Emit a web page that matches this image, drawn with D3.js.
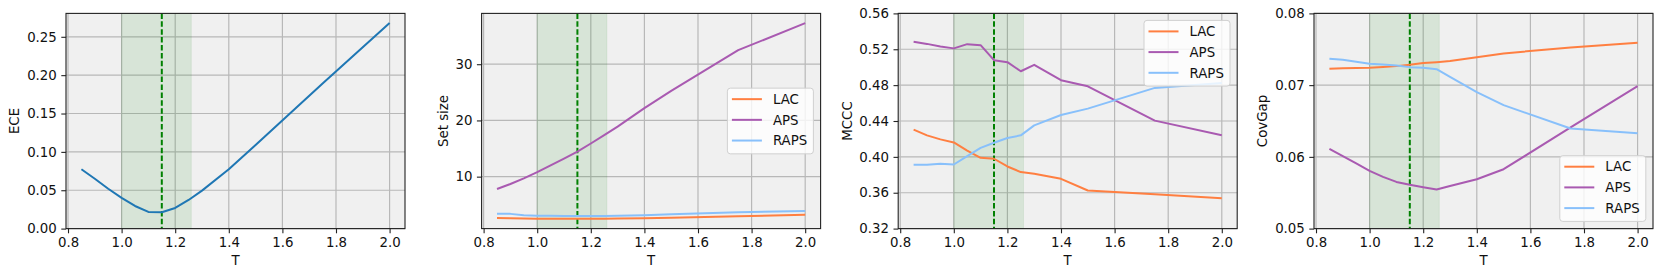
<!DOCTYPE html>
<html>
<head>
<meta charset="utf-8">
<script src="https://cdn.jsdelivr.net/npm/d3@7"></script>
<style>
  html, body { margin: 0; padding: 0; background: #fff; }
  svg { display: block; font-family: "DejaVu Sans", sans-serif; }
</style>
</head>
<body>
<svg id="chart" width="1661" height="277"></svg>
<script>
// ---------------- data ----------------
const T = [0.85, 0.9, 0.95, 1.0, 1.05, 1.1, 1.15, 1.2, 1.25, 1.3, 1.4, 1.5, 1.75, 2.0];
const xTicks = [0.8, 1.0, 1.2, 1.4, 1.6, 1.8, 2.0];
const methods = ["LAC", "APS", "RAPS"];

const eceValues = [0.0773, 0.065, 0.052, 0.0400, 0.0295, 0.0217, 0.0213, 0.0269, 0.0373, 0.0495, 0.0773, 0.109, 0.189, 0.268];

const setSizeLAC  = [2.64, 2.60, 2.55, 2.52, 2.51, 2.50, 2.50, 2.50, 2.52, 2.55, 2.62, 2.70, 2.94, 3.23];
const setSizeAPS  = [7.8, 8.7, 9.7, 10.8, 12.0, 13.2, 14.45, 15.9, 17.4, 18.9, 22.2, 25.25, 32.5, 37.3];
const setSizeRAPS = [3.41, 3.38, 3.15, 3.05, 3.03, 3.02, 3.02, 3.02, 3.02, 3.05, 3.15, 3.30, 3.65, 3.90];

const mcccLAC  = [0.4303, 0.424, 0.4195, 0.4161, 0.407, 0.399, 0.3979, 0.3893, 0.383, 0.3811, 0.3755, 0.3625, 0.3584, 0.3539];
const mcccAPS  = [0.5283, 0.526, 0.523, 0.521, 0.5257, 0.5246, 0.5078, 0.5056, 0.4955, 0.5026, 0.4855, 0.4787, 0.4404, 0.424];
const mcccRAPS = [0.3912, 0.3912, 0.3923, 0.3915, 0.4009, 0.410, 0.4158, 0.421, 0.424, 0.4351, 0.4467, 0.4538, 0.4769, 0.4825];

const covLAC  = [0.07228, 0.07237, 0.0724, 0.07242, 0.07252, 0.07265, 0.07284, 0.07307, 0.0732, 0.07335, 0.0739, 0.07442, 0.07526, 0.07591];
const covAPS  = [0.06112, 0.0601, 0.0591, 0.05805, 0.05721, 0.05651, 0.0561, 0.05577, 0.05544, 0.05595, 0.05688, 0.05828, 0.0641, 0.06986];
const covRAPS = [0.07367, 0.07353, 0.07326, 0.07298, 0.07288, 0.07274, 0.07251, 0.07242, 0.07223, 0.07116, 0.06902, 0.06721, 0.06395, 0.0633];

const eceTicks  = [0.00, 0.05, 0.10, 0.15, 0.20, 0.25];
const sizeTicks = [10, 20, 30];
const mcccTicks = [0.32, 0.36, 0.40, 0.44, 0.48, 0.52, 0.56];
const covTicks  = [0.05, 0.06, 0.07, 0.08];

const bandRange = [1.0, 1.26];
const optimalT = 1.15;

// ---------------- style ----------------
const colors = { ECE: "#1f77b4", LAC: "#ff7f41", APS: "#a95ab1", RAPS: "#88c0fb" };
const FS = 13.33;
const plotW = 339, plotTop = 13.4, plotBottom = 228.6;
const xDomain = [0.7925, 2.0575];

const svg = d3.select("#chart");

function drawPanel(cfg) {
  const g = svg.append("g");
  const x = d3.scaleLinear().domain(xDomain).range([cfg.left, cfg.left + plotW]);
  const y = d3.scaleLinear().domain(cfg.yDomain).range([plotBottom, plotTop]);

  // background
  g.append("rect").attr("x", cfg.left).attr("y", plotTop)
    .attr("width", plotW).attr("height", plotBottom - plotTop)
    .attr("fill", "#f0f0f0");

  // grid
  g.append("g").selectAll("line").data(xTicks).join("line")
    .attr("x1", d => x(d)).attr("x2", d => x(d))
    .attr("y1", plotTop).attr("y2", plotBottom)
    .attr("stroke", "#b8b8b8").attr("stroke-width", 1.2);
  g.append("g").selectAll("line").data(cfg.yTicks).join("line")
    .attr("x1", cfg.left).attr("x2", cfg.left + plotW)
    .attr("y1", d => y(d)).attr("y2", d => y(d))
    .attr("stroke", "#b8b8b8").attr("stroke-width", 1.2);

  // band
  g.append("rect").attr("x", x(bandRange[0])).attr("y", plotTop)
    .attr("width", x(bandRange[1]) - x(bandRange[0])).attr("height", plotBottom - plotTop)
    .attr("fill", "green").attr("fill-opacity", 0.1)
    .attr("stroke", "green").attr("stroke-opacity", 0.08);

  // dashed line
  g.append("line").attr("x1", x(optimalT)).attr("x2", x(optimalT))
    .attr("y1", plotTop).attr("y2", plotBottom)
    .attr("stroke", "#008000").attr("stroke-width", 2)
    .attr("stroke-dasharray", "5.5,2.4");

  // series
  const line = d3.line().x((d, i) => x(T[i])).y(d => y(d));
  cfg.series.forEach(s => {
    g.append("path").datum(s.values)
      .attr("d", line).attr("fill", "none")
      .attr("stroke", colors[s.name]).attr("stroke-width", 2)
      .attr("stroke-linejoin", "round");
  });

  // frame
  g.append("rect").attr("x", cfg.left).attr("y", plotTop)
    .attr("width", plotW).attr("height", plotBottom - plotTop)
    .attr("fill", "none").attr("stroke", "#222").attr("stroke-width", 1.1);

  // axes
  const xAxis = d3.axisBottom(x).tickValues(xTicks).tickFormat(d3.format(".1f"))
    .tickSize(4.7).tickPadding(4.2);
  const xg = g.append("g").attr("transform", `translate(0,${plotBottom})`).call(xAxis);
  const yAxis = d3.axisLeft(y).tickValues(cfg.yTicks).tickFormat(cfg.yFormat)
    .tickSize(4.7).tickPadding(4.5);
  const yg = g.append("g").attr("transform", `translate(${cfg.left},0)`).call(yAxis);
  [xg, yg].forEach(a => {
    a.select(".domain").remove();
    a.selectAll(".tick line").attr("stroke", "#222").attr("stroke-width", 1.1);
    a.selectAll(".tick text").attr("fill", "#111").style("font-size", FS + "px")
      .style("font-family", '"DejaVu Sans", sans-serif');
  });

  // labels
  g.append("text").attr("x", cfg.left + plotW / 2).attr("y", 265)
    .attr("text-anchor", "middle").attr("fill", "#111")
    .style("font-size", FS + "px").text("T");
  let maxW = 0;
  yg.selectAll(".tick text").each(function () { maxW = Math.max(maxW, this.getBBox().width); });
  const labX = cfg.left - 9.2 - maxW - 4.6 - 3.2;
  g.append("text").attr("transform", `translate(${labX},${(plotTop + plotBottom) / 2}) rotate(-90)`)
    .attr("text-anchor", "middle").attr("fill", "#111")
    .style("font-size", FS + "px").text(cfg.ylabel);

  // legend
  if (cfg.legend) {
    const lw = 86, lh = 65.7;
    let lx = cfg.left + plotW - 7.2 - lw, ly;
    if (cfg.legend === "upper right") ly = plotTop + 7;
    else if (cfg.legend === "lower right") ly = plotBottom - 7.2 - lh;
    else ly = (plotTop + plotBottom) / 2 - lh / 2;
    const lg = g.append("g").attr("transform", `translate(${lx},${ly})`);
    lg.append("rect").attr("width", lw).attr("height", lh).attr("rx", 3)
      .attr("fill", "#fff").attr("fill-opacity", 0.8)
      .attr("stroke", "#d0d0d0").attr("stroke-width", 1);
    cfg.series.forEach((s, i) => {
      const ry = 11 + i * 20.7;
      lg.append("line").attr("x1", 4.5).attr("x2", 34.5).attr("y1", ry).attr("y2", ry)
        .attr("stroke", colors[s.name]).attr("stroke-width", 2);
      lg.append("text").attr("x", 45.5).attr("y", ry).attr("dy", "0.36em")
        .attr("fill", "#111").style("font-size", FS + "px").text(s.name);
    });
  }
}

drawPanel({
  left: 66, yDomain: [0, 0.2805], yTicks: eceTicks, yFormat: d3.format(".2f"),
  ylabel: "ECE", series: [{ name: "ECE", values: eceValues }], legend: null
});
drawPanel({
  left: 481.6, yDomain: [0.76, 39.04], yTicks: sizeTicks, yFormat: d3.format("d"),
  ylabel: "Set size",
  series: [{ name: "LAC", values: setSizeLAC }, { name: "APS", values: setSizeAPS }, { name: "RAPS", values: setSizeRAPS }],
  legend: "center right"
});
drawPanel({
  left: 898.2, yDomain: [0.32, 0.56], yTicks: mcccTicks, yFormat: d3.format(".2f"),
  ylabel: "MCCC",
  series: [{ name: "LAC", values: mcccLAC }, { name: "APS", values: mcccAPS }, { name: "RAPS", values: mcccRAPS }],
  legend: "upper right"
});
drawPanel({
  left: 1314, yDomain: [0.05, 0.08], yTicks: covTicks, yFormat: d3.format(".2f"),
  ylabel: "CovGap",
  series: [{ name: "LAC", values: covLAC }, { name: "APS", values: covAPS }, { name: "RAPS", values: covRAPS }],
  legend: "lower right"
});
</script>
</body>
</html>
